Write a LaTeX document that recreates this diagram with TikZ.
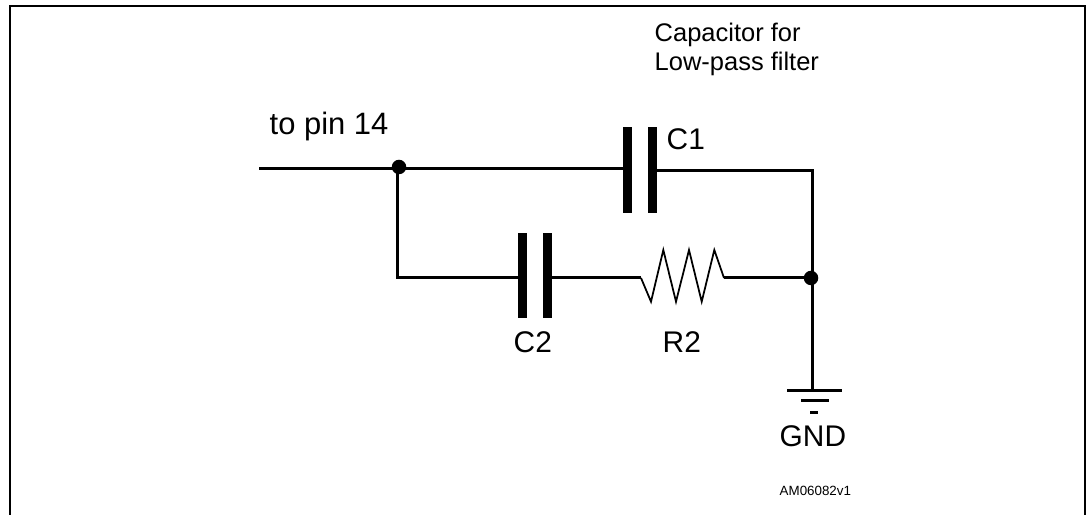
\documentclass[tikz,border=0pt]{standalone}
\usepackage{fontspec}
\setmainfont{Liberation Sans}
\tikzset{
  wire/.style={line width=0.85pt,black},
  thinwire/.style={line width=0.5pt,black,line join=miter},
  plate/.style={fill=black,draw=none,inner sep=0pt,minimum width=0.09cm},
  dot/.style={circle,fill=black,draw=none,inner sep=0pt,minimum size=0.145cm},
  label/.style={anchor=base west,inner sep=0pt,text=black},
  biglabel/.style={label,font=\fontsize{8.5}{10}\selectfont},
  midlabel/.style={label,font=\fontsize{7.25}{8}\selectfont},
}
\begin{document}
\begin{tikzpicture}
\useasboundingbox (0,0) rectangle (10.86,5.15);

%---------------------------------------------------
%frame, open at the bottom
\coordinate (fbl) at (0.10,0);
\coordinate (ftl) at (0.10,5.09);
\coordinate (ftr) at (10.85,5.09);
\coordinate (fbr) at (10.85,0);
\draw[line width=0.6pt] (fbl) -- (ftl) -- (ftr) -- (fbr);

%---------------------------------------------------
%capacitors
\node[plate,minimum height=0.86cm] (c1a) at (6.275,3.45) {};
\node[plate,minimum height=0.86cm] (c1b) at (6.525,3.45) {};
\node[plate,minimum height=0.85cm] (c2a) at (5.225,2.395) {};
\node[plate,minimum height=0.85cm] (c2b) at (5.475,2.395) {};

%junctions
\node[dot] (jtop) at (3.99,3.48) {};
\node[dot] (jright) at (8.11,2.37) {};

%wire ends and corners
\coordinate (pin) at (2.59,3.467);
\coordinate (tee) at (3.97,3.467);
\coordinate (c1in) at (6.23,3.467);
\coordinate (c1out) at (6.57,3.443);
\coordinate (corner) at (8.123,3.443);
\coordinate (low) at (3.97,2.37);
\coordinate (c2in) at (5.18,2.37);
\coordinate (c2out) at (5.52,2.37);
\coordinate (rin) at (6.41,2.37);
\coordinate (rout) at (7.24,2.37);
\coordinate (rright) at (8.123,2.37);
\coordinate (gnd) at (8.123,1.243);

%---------------------------------------------------
\draw[wire] (pin) -- (c1in);
\draw[wire] (c1out) -- (corner) -- (gnd);
\draw[wire] (tee) -- (low) -- (c2in);
\draw[wire] (c2out) -- (rin);
\draw[wire] (rout) -- (rright);

%resistor
\draw[thinwire] (rin) -- (6.51,2.133) -- (6.633,2.65) -- (6.76,2.133) -- (6.89,2.65)
  -- (7.017,2.133) -- (7.143,2.65) -- (rout);

%ground
\draw[line width=1pt] (7.87,1.243) -- (8.42,1.243);
\draw[line width=0.85pt] (8.01,1.14) -- (8.29,1.14);
\draw[line width=0.85pt] (8.10,1.025) -- (8.18,1.025);

%---------------------------------------------------
\node[midlabel] (capa) at (6.54,4.733) {Capacitor for};
\node[midlabel] (lowp) at (6.54,4.44) {Low-pass filter};
\node[biglabel,font=\fontsize{8.8}{10}\selectfont] (topin) at (2.69,3.80) {to pin 14};
\node[biglabel] (c1lab) at (6.66,3.655) {C1};
\node[biglabel] (c2lab) at (5.13,1.62) {C2};
\node[biglabel] (r2lab) at (6.62,1.62) {R2};
\node[biglabel] (gndlab) at (7.79,0.683) {GND};
\node[label,font=\fontsize{3.8}{5}\selectfont] (amref) at (7.79,0.19) {AM06082v1};

\end{tikzpicture}
\end{document}
